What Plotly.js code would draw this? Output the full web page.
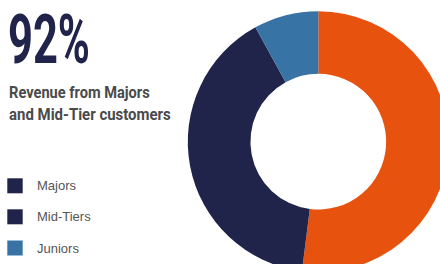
<!DOCTYPE html>
<html>
<head>
<meta charset="utf-8">
<script src="https://cdn.plot.ly/plotly-3.0.1.min.js"></script>
<style>
html,body{margin:0;padding:0;overflow:hidden;background:#fff;width:440px;height:264px;}
#chart{position:absolute;left:0;top:0;width:480px;height:300px;}
</style>
</head>
<body>
<div id="chart"></div>
<script>
// Data
const labels = ['Majors', 'Mid-Tiers', 'Juniors'];
const values = [52, 40, 8];
const sliceColors = ['#E8520F', '#21244A', '#3873A5'];
const legendLabels = ['Majors', 'Mid-Tiers', 'Juniors'];
const legendColors = ['#21244A', '#21244A', '#3873A5'];
const headline = '92%';
const subtitleLines = ['Revenue from Majors', 'and Mid-Tier customers'];

const W = 480, H = 300;
const px = x => x / W;
const py = y => 1 - y / H;

// donut geometry (pixels)
const cx = 318.3, cy = 141.7, r = 130.5;

const trace = {
  type: 'pie',
  labels: labels,
  values: values,
  marker: {colors: sliceColors, line: {width: 0}},
  hole: 0.52,
  sort: false,
  direction: 'clockwise',
  rotation: 0,
  textinfo: 'none',
  hoverinfo: 'label+percent',
  showlegend: false,
  domain: {x: [px(cx - r), px(cx + r)], y: [py(cy + r), py(cy - r)]}
};

const headFont = 'Roboto, "DejaVu Sans", sans-serif';

// [left, width] target boxes for horizontally condensed texts
const condensedTargets = {0: [8, 82], 1: [9, 141], 2: [9, 162]};

const annotations = [
  {text: '<b>' + headline + '</b>', xref: 'paper', yref: 'paper', x: px(5), y: py(39), xanchor: 'left', yanchor: 'middle',
   showarrow: false, font: {family: headFont, size: 69, color: '#21244A'}},
  {text: '<b>' + subtitleLines[0] + '</b>', xref: 'paper', yref: 'paper', x: px(6), y: py(92), xanchor: 'left', yanchor: 'middle',
   showarrow: false, font: {family: headFont, size: 17, color: '#4A4A4A'}},
  {text: '<b>' + subtitleLines[1] + '</b>', xref: 'paper', yref: 'paper', x: px(6), y: py(114.5), xanchor: 'left', yanchor: 'middle',
   showarrow: false, font: {family: headFont, size: 17, color: '#4A4A4A'}}
];

const shapes = [];
const legendY = [185.8, 216.8, 248];
legendLabels.forEach((lab, i) => {
  const yc = legendY[i];
  shapes.push({type: 'rect', xref: 'paper', yref: 'paper', x0: px(7.3), x1: px(22.7), y0: py(yc + 7.5), y1: py(yc - 7.5),
    fillcolor: legendColors[i], line: {width: 0}});
  annotations.push({text: lab, xref: 'paper', yref: 'paper', x: px(35), y: py(yc), xanchor: 'left', yanchor: 'middle',
    showarrow: false, font: {family: 'Liberation Sans, Arial, sans-serif', size: 13, color: '#555555'}});
});

const layout = {
  width: W, height: H,
  margin: {l: 0, r: 0, t: 0, b: 0},
  paper_bgcolor: '#ffffff',
  showlegend: false,
  annotations: annotations,
  shapes: shapes
};

Plotly.newPlot('chart', [trace], layout, {staticPlot: true, displayModeBar: false}).then(gd => {
  Object.keys(condensedTargets).forEach(k => {
    const [left, width] = condensedTargets[k];
    const t = gd.querySelector('.annotation[data-index="' + k + '"] text.annotation-text');
    if (!t) return;
    const bb = t.getBBox();
    const s = width / bb.width;
    const r0 = t.getBoundingClientRect();
    const dx = left - r0.left;
    t.setAttribute('transform',
      'translate(' + (bb.x + dx) + ',0) scale(' + s + ',1) translate(' + (-bb.x) + ',0)');
  });
});
</script>
</body>
</html>
